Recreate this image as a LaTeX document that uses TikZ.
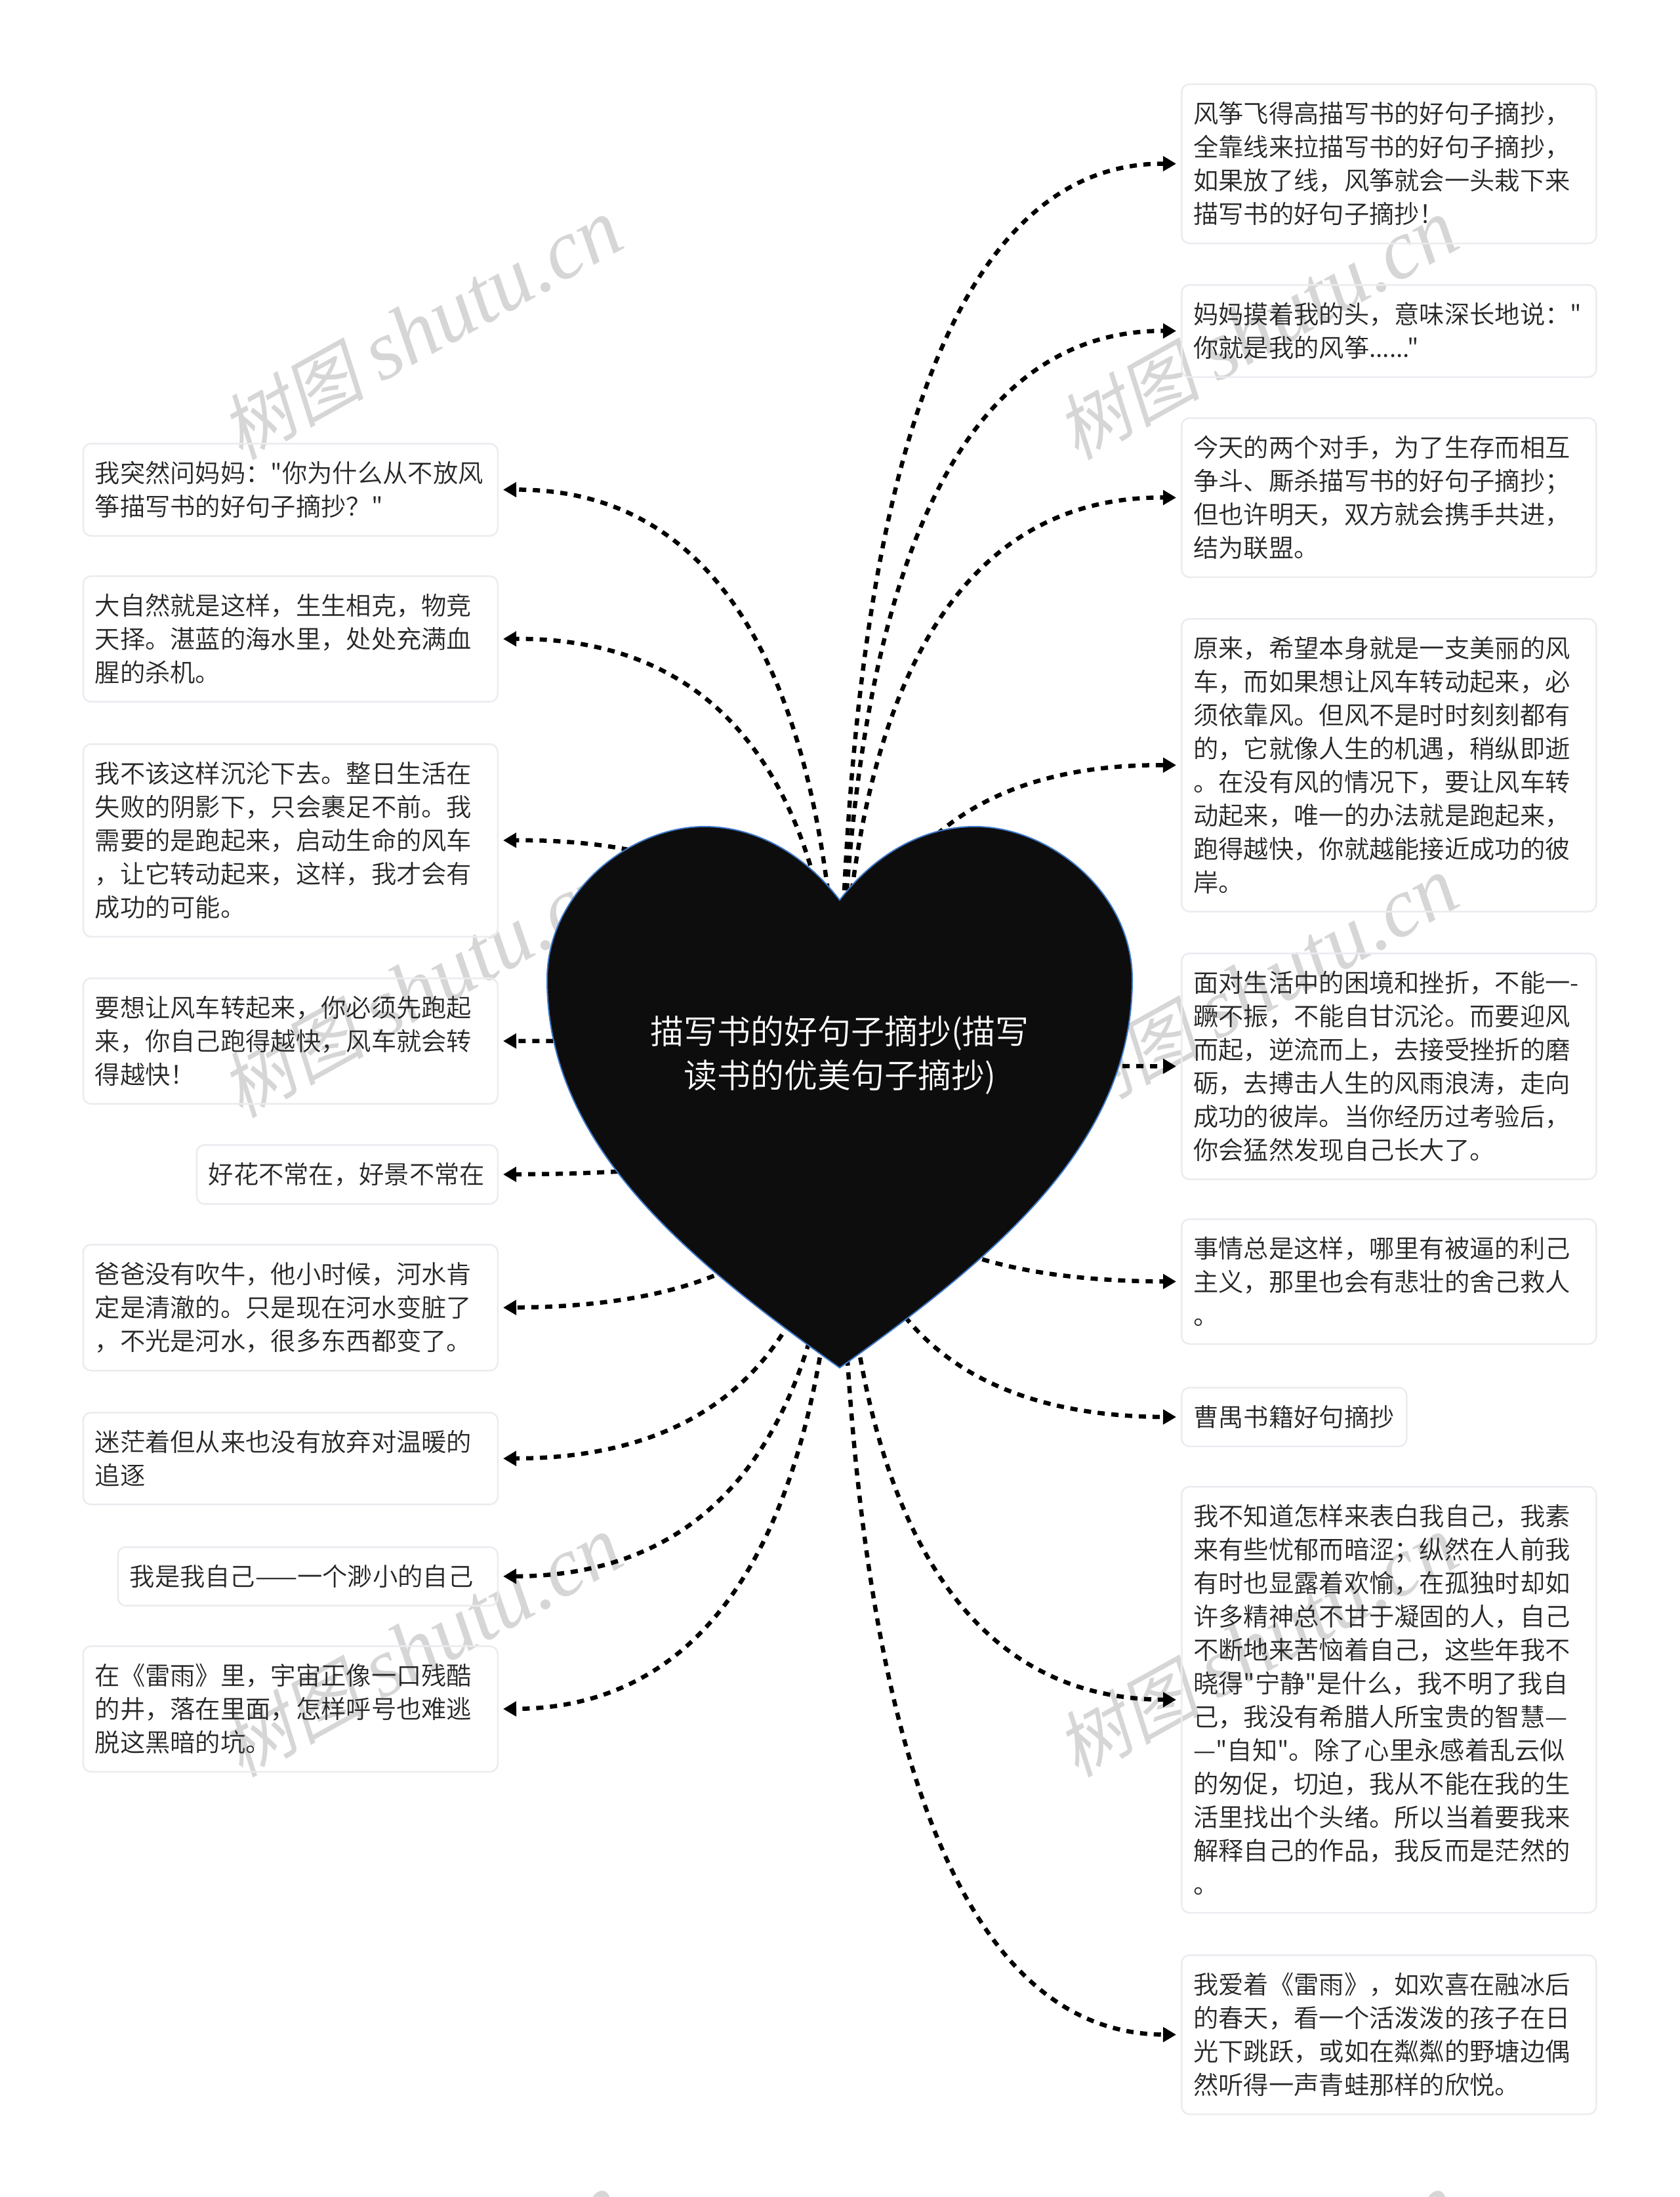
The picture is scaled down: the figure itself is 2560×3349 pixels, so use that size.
\documentclass[tikz,border=0pt]{standalone}
\usepackage{fontspec}
\usetikzlibrary{arrows.meta}
\newfontfamily\zhfont{Noto Sans CJK SC DemiLight}
\newfontfamily\wmcjk{Noto Sans CJK SC}[FakeSlant=0.2]
\newfontfamily\wmlatin{Liberation Serif Italic}
\definecolor{leafline}{HTML}{EAECF0}
\definecolor{heartline}{HTML}{3C78C8}
\definecolor{heartfill}{HTML}{0D0D0D}
\definecolor{marktext}{HTML}{D6D6D6}
\begin{document}
\begin{tikzpicture}[x=1pt,y=-1pt,
  mark text/.style={text=marktext,rotate=29,inner sep=0pt},
  leaf/.style={draw=leafline,line width=2.5pt,rounded corners=12pt,text=black!85,align=left,inner xsep=18pt,inner ysep=27pt,text width=#1,font=\zhfont\fontsize{38.3}{51}\selectfont},
  leaf/.default=596pt,
  link/.style={draw=black,line width=6.5pt,dash pattern=on 11pt off 10pt,shorten >=7pt,-{Triangle[length=20pt,width=22pt]}},
  heart/.style={draw=heartline,fill=heartfill,line width=2pt}]
\useasboundingbox (0,0) rectangle (2560,3349);
\fill [white] (0,0) rectangle (2560,3349);
\node (mark1) [mark text] at (642,502) {\fontsize{110}{128}\selectfont\wmcjk 树图 \fontsize{128}{128}\selectfont\wmlatin shutu.cn};
\node (mark2) [mark text] at (1916,502) {\fontsize{110}{128}\selectfont\wmcjk 树图 \fontsize{128}{128}\selectfont\wmlatin shutu.cn};
\node (mark3) [mark text] at (642,1505) {\fontsize{110}{128}\selectfont\wmcjk 树图 \fontsize{128}{128}\selectfont\wmlatin shutu.cn};
\node (mark4) [mark text] at (1916,1505) {\fontsize{110}{128}\selectfont\wmcjk 树图 \fontsize{128}{128}\selectfont\wmlatin shutu.cn};
\node (mark5) [mark text] at (642,2510) {\fontsize{110}{128}\selectfont\wmcjk 树图 \fontsize{128}{128}\selectfont\wmlatin shutu.cn};
\node (mark6) [mark text] at (1916,2510) {\fontsize{110}{128}\selectfont\wmcjk 树图 \fontsize{128}{128}\selectfont\wmlatin shutu.cn};
\node (mark7) [mark text] at (642,3512) {\fontsize{110}{128}\selectfont\wmcjk 树图 \fontsize{128}{128}\selectfont\wmlatin shutu.cn};
\node (mark8) [mark text] at (1916,3512) {\fontsize{110}{128}\selectfont\wmcjk 树图 \fontsize{128}{128}\selectfont\wmlatin shutu.cn};
\node (r1) [leaf,anchor=north west] at (1800,127) {风筝飞得高描写书的好句子摘抄，\\全靠线来拉描写书的好句子摘抄，\\如果放了线，风筝就会一头栽下来\\描写书的好句子摘抄！};
\node (r2) [leaf,anchor=north west] at (1800,433) {妈妈摸着我的头，意味深长地说："\\你就是我的风筝......"};
\node (r3) [leaf,anchor=north west] at (1800,636) {今天的两个对手，为了生存而相互\\争斗、厮杀描写书的好句子摘抄；\\但也许明天，双方就会携手共进，\\结为联盟。};
\node (r4) [leaf,anchor=north west] at (1800,942) {原来，希望本身就是一支美丽的风\\车，而如果想让风车转动起来，必\\须依靠风。但风不是时时刻刻都有\\的，它就像人生的机遇，稍纵即逝\\。在没有风的情况下，要让风车转\\动起来，唯一的办法就是跑起来，\\跑得越快，你就越能接近成功的彼\\岸。};
\node (r5) [leaf,anchor=north west] at (1800,1452) {面对生活中的困境和挫折，不能一-\\蹶不振，不能自甘沉沦。而要迎风\\而起，逆流而上，去接受挫折的磨\\砺，去搏击人生的风雨浪涛，走向\\成功的彼岸。当你经历过考验后，\\你会猛然发现自己长大了。};
\node (r6) [leaf,anchor=north west] at (1800,1857) {事情总是这样，哪里有被逼的利己\\主义，那里也会有悲壮的舍己救人\\。};
\node (r7) [leaf=307pt,anchor=north west] at (1800,2114) {曹禺书籍好句摘抄};
\node (r8) [leaf,anchor=north west] at (1800,2265) {我不知道怎样来表白我自己，我素\\来有些忧郁而暗涩；纵然在人前我\\有时也显露着欢愉，在孤独时却如\\许多精神总不甘于凝固的人，自己\\不断地来苦恼着自己，这些年我不\\晓得"宁静"是什么，我不明了我自\\己，我没有希腊人所宝贵的智慧—\\—"自知"。除了心里永感着乱云似\\的匆促，切迫，我从不能在我的生\\活里找出个头绪。所以当着要我来\\解释自己的作品，我反而是茫然的\\。};
\node (r9) [leaf,anchor=north west] at (1800,2979) {我爱着《雷雨》，如欢喜在融冰后\\的春天，看一个活泼泼的孩子在日\\光下跳跃，或如在粼粼的野塘边偶\\然听得一声青蛙那样的欣悦。};
\node (l1) [leaf,anchor=north east] at (760,675) {我突然问妈妈："你为什么从不放风\\筝描写书的好句子摘抄？"};
\node (l2) [leaf,anchor=north east] at (760,877) {大自然就是这样，生生相克，物竞\\天择。湛蓝的海水里，处处充满血\\腥的杀机。};
\node (l3) [leaf,anchor=north east] at (760,1133) {我不该这样沉沦下去。整日生活在\\失败的阴影下，只会裹足不前。我\\需要的是跑起来，启动生命的风车\\，让它转动起来，这样，我才会有\\成功的可能。};
\node (l4) [leaf,anchor=north east] at (760,1490) {要想让风车转起来，你必须先跑起\\来，你自己跑得越快，风车就会转\\得越快！};
\node (l5) [leaf=423pt,anchor=north east] at (760,1744) {好花不常在，好景不常在};
\node (l6) [leaf,anchor=north east] at (760,1896) {爸爸没有吹牛，他小时候，河水肯\\定是清澈的。只是现在河水变脏了\\，不光是河水，很多东西都变了。};
\node (l7) [leaf,anchor=north east] at (760,2152) {迷茫着但从来也没有放弃对温暖的\\追逐};
\node (l8) [leaf=543pt,anchor=north east] at (760,2357) {我是我自己——一个渺小的自己};
\node (l9) [leaf,anchor=north east] at (760,2508) {在《雷雨》里，宇宙正像一口残酷\\的井，落在里面，怎样呼号也难逃\\脱这黑暗的坑。};
\coordinate (hub) at (1280,1672);
\draw [link] (hub) .. controls (1280,722) and (1453.3,247.5) .. (r1.west);
\draw [link] (hub) .. controls (1280,893) and (1453.3,503) .. (r2.west);
\draw [link] (hub) .. controls (1280,1062) and (1453.3,756.5) .. (r3.west);
\draw [link] (hub) .. controls (1280,1334) and (1453.3,1164.5) .. (r4.west);
\draw [link] (hub) .. controls (1280,1640) and (1453.3,1623.5) .. (r5.west);
\draw [link] (hub) .. controls (1280,1859) and (1453.3,1952) .. (r6.west);
\draw [link] (hub) .. controls (1280,1996) and (1453.3,2158.5) .. (r7.west);
\draw [link] (hub) .. controls (1280,2284) and (1453.3,2589.5) .. (r8.west);
\draw [link] (hub) .. controls (1280,2624) and (1453.3,3100) .. (r9.west);
\draw [link] (hub) .. controls (1280,1054) and (1106.7,745) .. (l1.east);
\draw [link] (hub) .. controls (1280,1205) and (1106.7,972) .. (l2.east);
\draw [link] (hub) .. controls (1280,1410) and (1106.7,1279) .. (l3.east);
\draw [link] (hub) .. controls (1280,1614) and (1106.7,1585) .. (l4.east);
\draw [link] (hub) .. controls (1280,1750) and (1106.7,1788.5) .. (l5.east);
\draw [link] (hub) .. controls (1280,1885) and (1106.7,1991) .. (l6.east);
\draw [link] (hub) .. controls (1280,2039) and (1106.7,2222) .. (l7.east);
\draw [link] (hub) .. controls (1280,2158) and (1106.7,2401.5) .. (l8.east);
\draw [link] (hub) .. controls (1280,2293) and (1106.7,2603) .. (l9.east);
\draw [heart] (1280,1372) .. controls (1225,1300) and (1150,1260) .. (1074,1260) .. controls (960,1260) and (834,1360) .. (834,1493) .. controls (834,1740) and (1035,1911) .. (1280,2085) .. controls (1525,1911) and (1726,1740) .. (1726,1493) .. controls (1726,1360) and (1600,1260) .. (1486,1260) .. controls (1410,1260) and (1335,1300) .. (1280,1372) -- cycle;
\node (root) [text=white,align=center,font=\zhfont\fontsize{51}{67}\selectfont] at (1280,1608) {描写书的好句子摘抄(描写\\读书的优美句子摘抄)};
\end{tikzpicture}
\end{document}
